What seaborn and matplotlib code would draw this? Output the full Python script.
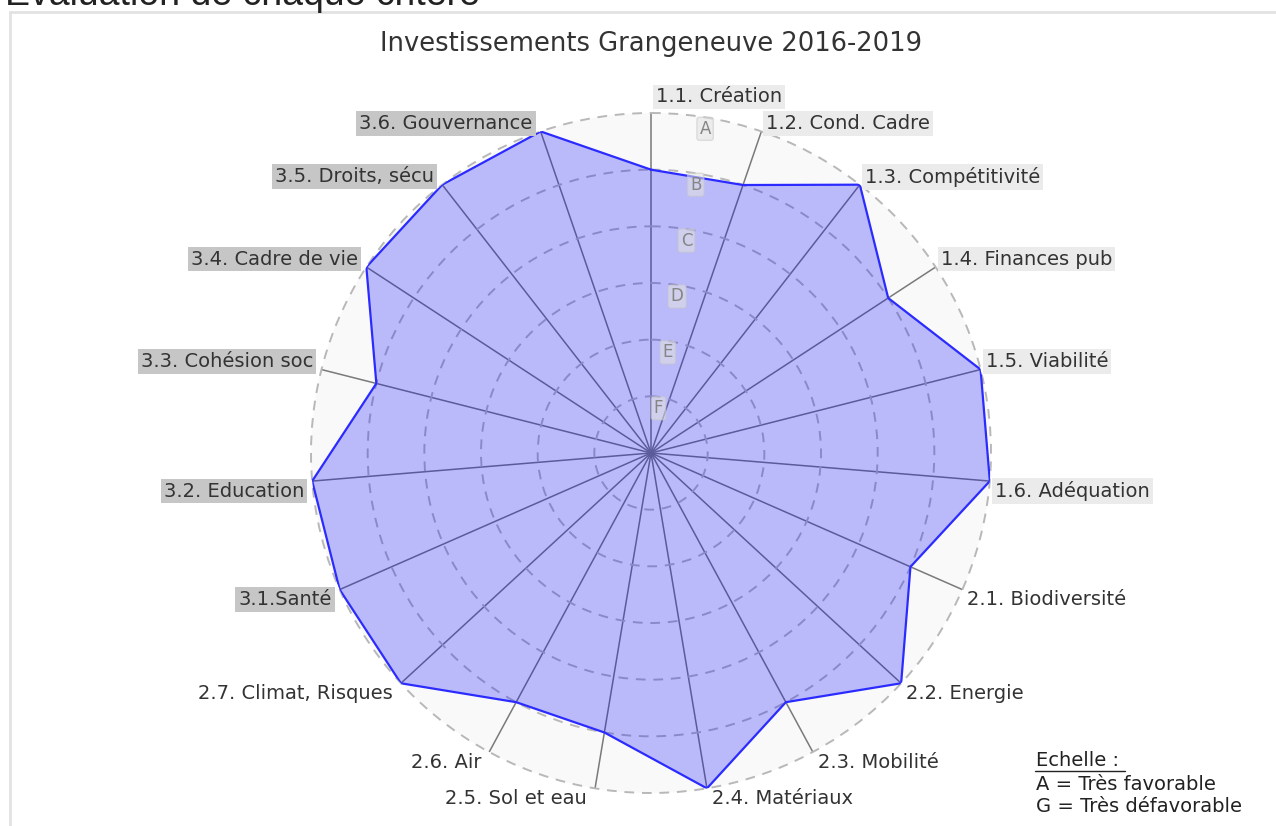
import numpy as np
import seaborn as sns
import matplotlib.pyplot as plt
from matplotlib.lines import Line2D

criteres = ["1.1. Création", "1.2. Cond. Cadre", "1.3. Compétitivité", "1.4. Finances pub",
            "1.5. Viabilité", "1.6. Adéquation", "2.1. Biodiversité", "2.2. Energie",
            "2.3. Mobilité", "2.4. Matériaux", "2.5. Sol et eau", "2.6. Air",
            "2.7. Climat, Risques", "3.1.Santé", "3.2. Education", "3.3. Cohésion soc",
            "3.4. Cadre de vie", "3.5. Droits, sécu", "3.6. Gouvernance"]
# note : 6 = A (très favorable) ... 1 = F
notes = [5, 5, 6, 5, 6, 6, 5, 6, 5, 6, 5, 5, 6, 6, 6, 5, 6, 6, 6]
echelle = ["F", "E", "D", "C", "B", "A"]

sns.set_theme(style="white")
plt.rcParams["font.family"] = ["DejaVu Sans"]

W, H = 1276, 826
fig = plt.figure(figsize=(W / 100, H / 100), dpi=100)
fig.patch.set_facecolor("white")

# cadre du panneau
fig.add_artist(Line2D([10 / W, 1], [1 - 12 / H, 1 - 12 / H], color="#e2e2e2", lw=2))
fig.add_artist(Line2D([10 / W, 10 / W], [0, 1 - 12 / H], color="#e2e2e2", lw=2))

# titre de la page, coupé en haut
fig.text(5 / W, 1 - 5 / H, "Évaluation de chaque critère", fontsize=27,
         family="Liberation Sans", color="#222222", va="baseline", ha="left")

cx, cy, R = 651, 453, 340
ax = fig.add_axes([(cx - R) / W, (H - cy - R) / H, 2 * R / W, 2 * R / H], projection="polar")
ax.set_theta_zero_location("N")
ax.set_theta_direction(-1)
ax.set_facecolor("#f9f9f9")

n = len(criteres)
theta = np.arange(n) * 2 * np.pi / n

ax.set_ylim(0, 6)
ax.set_yticks(range(1, 7))
ax.set_yticklabels([])
ax.set_xticks(theta)
ax.set_xticklabels([])
ax.yaxis.grid(True, color="#b8b8b8", lw=1.4, ls=(0, (5, 4)))
ax.xaxis.grid(True, color="#7a7a7a", lw=1.1)
ax.spines["polar"].set_visible(False)
for gl in ax.yaxis.get_gridlines():
    gl.set_clip_on(False)

th_c = np.append(theta, 2 * np.pi)
val_c = np.append(notes, notes[0])
ax.fill(th_c, val_c, color="#0000ff", alpha=0.25, lw=0, zorder=2)
sns.lineplot(x=th_c, y=val_c, sort=False, estimator=None, color="#2b2bff", lw=1.6, ax=ax, zorder=3)

# libellés de l'échelle
mid = np.pi / n
for i, lettre in enumerate(echelle):
    ax.text(mid, i + 1 - 0.2, lettre, ha="center", va="center", fontsize=12, color="#858585",
            zorder=4, bbox=dict(boxstyle="round,pad=0.15", fc="#e3e3e3", ec="#c8c8c8", alpha=0.55))

# libellés des axes
for i, (t, lab) in enumerate(zip(theta, criteres)):
    s, c = np.sin(t), np.cos(t)
    droite = s > -1e-9
    dx = 5 if droite else -8
    dy = 8 if c > 0 else -10
    if i == 0:
        dy = 16
    if lab.startswith("1."):
        box = dict(boxstyle="square,pad=0.15", fc="#ebebeb", ec="none")
    elif lab.startswith("3."):
        box = dict(boxstyle="square,pad=0.15", fc="#c6c6c6", ec="none")
    else:
        box = None
    ax.annotate(lab, xy=(t, 6), xytext=(dx * 0.72, dy * 0.72), textcoords="offset points",
                ha="left" if droite else "right", va="center", fontsize=14, color="#333333",
                bbox=box, annotation_clip=False, zorder=5)

fig.text(cx / W, 1 - 44 / H, "Investissements Grangeneuve 2016-2019", ha="center",
         va="center", fontsize=18.5, color="#333333")

# légende de l'échelle
fig.text(1036 / W, 1 - 760 / H, "Echelle :", fontsize=14, color="#222222", va="center")
fig.add_artist(Line2D([1035 / W, 1125 / W], [1 - 771 / H, 1 - 771 / H], color="#222222", lw=1))
fig.text(1036 / W, 1 - 784 / H, "A = Très favorable", fontsize=14, color="#222222", va="center")
fig.text(1036 / W, 1 - 807 / H, "G = Très défavorable", fontsize=14, color="#222222", va="center")

fig.savefig("out.png", dpi=100)
